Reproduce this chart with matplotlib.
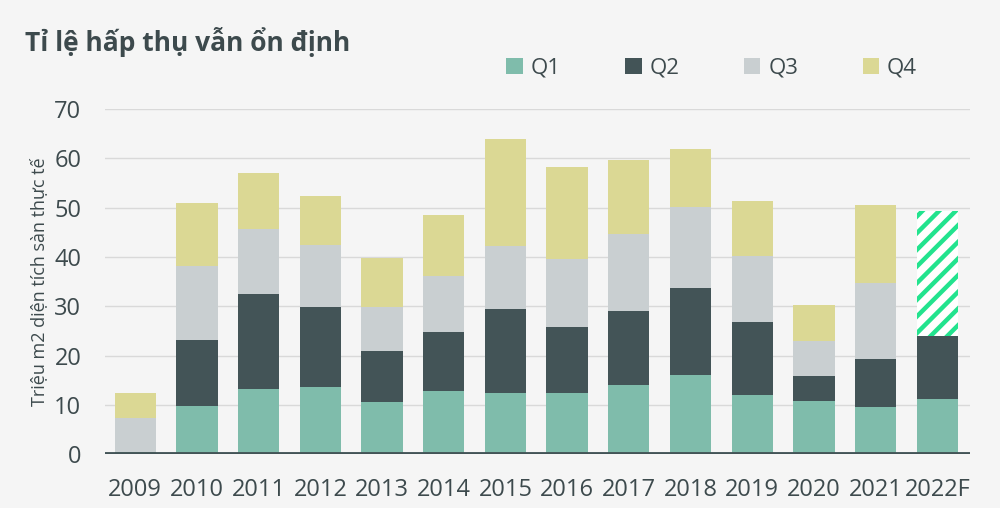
import numpy as np
import matplotlib
matplotlib.use('Agg')
import matplotlib.pyplot as plt

years = ['2009', '2010', '2011', '2012', '2013', '2014', '2015',
         '2016', '2017', '2018', '2019', '2020', '2021', '2022F']
q1 = [0.5, 9.8, 13.3, 13.6, 10.6, 12.8, 12.5, 12.4, 14.0, 16.0, 12.0, 10.7, 9.6, 11.1]
q2 = [0.0, 13.3, 19.2, 16.3, 10.3, 11.9, 16.9, 13.5, 15.0, 17.8, 14.9, 5.2, 9.8, 12.9]
q3 = [6.8, 15.1, 13.1, 12.5, 8.9, 11.5, 12.8, 13.8, 15.7, 16.3, 13.4, 7.1, 15.3, 0.0]
q4 = [5.1, 12.8, 11.5, 9.9, 10.1, 12.3, 21.7, 18.5, 14.9, 11.9, 11.0, 7.2, 15.8, 0.0]
du_bao = [0, 0, 0, 0, 0, 0, 0, 0, 0, 0, 0, 0, 0, 25.3]  # nua cuoi 2022 (du bao)

mau = {'Q1': '#7fbcab', 'Q2': '#435457', 'Q3': '#c9cfd1', 'Q4': '#dbd894'}
mau_chu = '#3d4a4d'
nen = '#f5f5f5'

plt.rcParams['font.family'] = ['Open Sans', 'DejaVu Sans']
plt.rcParams['hatch.linewidth'] = 3.2
plt.rcParams['hatch.color'] = '#22e38e'

fig = plt.figure(figsize=(10, 5.08), dpi=100, facecolor=nen)
ax = fig.add_axes([0.105, 0.106, 0.865, 0.679], facecolor=nen)

x = np.arange(len(years))
w = 0.67
day = np.zeros(len(years))
for ten, vals in [('Q1', q1), ('Q2', q2), ('Q3', q3), ('Q4', q4)]:
    vals = np.array(vals)
    ax.bar(x, vals, w, bottom=day, color=mau[ten], label=ten, linewidth=0, zorder=2)
    day = day + vals

# cot du bao gach cheo
ax.bar(x, du_bao, w, bottom=day, facecolor='white', edgecolor='#22e38e',
       hatch='//', linewidth=0, zorder=2)

ax.set_xlim(-0.49, len(years) - 0.47)
ax.set_ylim(0, 70)
ax.set_yticks(range(0, 71, 10))
ax.set_xticks(x)
ax.set_xticklabels(years)
ax.grid(axis='y', color='#d9d9d9', linewidth=1, zorder=0)
ax.axhline(0, color='#435457', linewidth=3.5, zorder=3)
for s in ax.spines.values():
    s.set_visible(False)
ax.tick_params(axis='both', length=0, labelsize=17, colors=mau_chu)
ax.tick_params(axis='y', pad=17)
ax.tick_params(axis='x', pad=17)

ax.set_ylabel('Triệu m2 diện tích sàn thực tế', fontsize=13, color=mau_chu, labelpad=4)

fig.text(0.025, 0.917, 'Tỉ lệ hấp thụ vẫn ổn định', fontsize=19, fontweight='bold',
         color=mau_chu, va='center', ha='left')

ax.legend(loc='center left', bbox_to_anchor=(0.4636, 1.119), ncol=4, frameon=False,
          fontsize=16, handlelength=0.75, handleheight=0.75, handletextpad=0.35,
          columnspacing=2.9, labelcolor=mau_chu, borderaxespad=0, borderpad=0)

fig.savefig('out.png', dpi=100, facecolor=nen)
